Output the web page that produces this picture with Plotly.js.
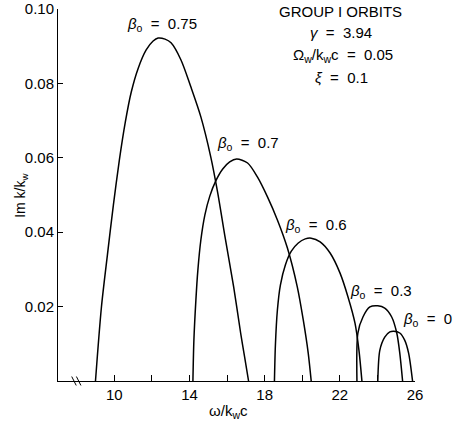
<!DOCTYPE html>
<html>
<head>
<meta charset="utf-8">
<script src="https://cdn.plot.ly/plotly-3.0.1.min.js"></script>
<style>
  html, body { margin: 0; padding: 0; background: #ffffff; }
  #chart { width: 456px; height: 425px; }
</style>
</head>
<body>
<div id="chart"></div>
<script>
// ---- Data (omega/k_w c  vs  Im k/k_w) ----
const betaLabels = ["0.75", "0.7", "0.6", "0.3", "0"];

const x075 = [8.995, 9.312, 9.630, 9.947, 10.265, 10.582, 10.899, 11.270, 11.693, 12.063, 12.328, 12.698, 13.016, 13.545, 14.074, 14.603, 15.132, 15.503, 15.873, 16.349, 16.720, 16.931, 17.143];
const y075 = [0, 0.0199, 0.0339, 0.0473, 0.0594, 0.0696, 0.0777, 0.0841, 0.0890, 0.0914, 0.0922, 0.0919, 0.0909, 0.0863, 0.0790, 0.0710, 0.0602, 0.0505, 0.0392, 0.0253, 0.0129, 0.0065, 0];

const x070 = [14.180, 14.233, 14.339, 14.444, 14.603, 14.815, 15.079, 15.397, 15.767, 16.138, 16.508, 17.090, 17.619, 18.148, 18.677, 19.206, 19.735, 20.053, 20.317, 20.476];
const y070 = [0, 0.0110, 0.0218, 0.0298, 0.0379, 0.0446, 0.0497, 0.0538, 0.0570, 0.0589, 0.0597, 0.0586, 0.0548, 0.0495, 0.0433, 0.0358, 0.0253, 0.0164, 0.0075, 0];

const x060 = [18.519, 18.571, 18.677, 18.836, 19.101, 19.418, 19.788, 20.159, 20.476, 20.952, 21.481, 22.011, 22.434, 22.804, 23.016, 23.175];
const y060 = [0, 0.0097, 0.0191, 0.0258, 0.0312, 0.0349, 0.0371, 0.0382, 0.0384, 0.0374, 0.0344, 0.0290, 0.0226, 0.0156, 0.0083, 0];

const x030 = [22.91, 22.96, 23.23, 23.60, 24.02, 24.39, 24.76, 25.03, 25.19, 25.34];
const y030 = [0, 0.0129, 0.0172, 0.0199, 0.0202, 0.0196, 0.0172, 0.0129, 0.0075, 0];

const x000 = [24.02, 24.13, 24.39, 24.66, 24.87, 25.19, 25.45, 25.66, 25.87];
const y000 = [0, 0.0083, 0.0118, 0.0132, 0.0134, 0.0129, 0.0110, 0.0075, 0];

const xTickVals = [10, 14, 18, 22, 26];
const xTickText = ["10", "14", "18", "22", "26"];
const xMinorVals = [12, 16, 20, 24];
const yTickVals = [0.02, 0.04, 0.06, 0.08, 0.10];
const yTickText = ["0.02", "0.04", "0.06", "0.08", "0.10"];

const infoLines = ["GROUP I ORBITS", "<i>γ</i>  =  3.94", "Ω<sub>w</sub>/k<sub>w</sub>c  =  0.05", "<i>ξ</i>  =  0.1"];
const xTitle = "ω/k<sub>w</sub>c";
const yTitle = "Im k/k<sub>w</sub>";

// ---- Build traces ----
const FONT = "Liberation Sans, Arial, Helvetica, sans-serif";
const series = [[x075, y075], [x070, y070], [x060, y060], [x030, y030], [x000, y000]];
const traces = series.map((s, i) => ({
  x: s[0], y: s[1],
  type: "scatter", mode: "lines",
  name: "β0 = " + betaLabels[i],
  line: { color: "#000000", width: 1.5, shape: "spline", smoothing: 0.8 },
  hoverinfo: "skip"
}));

// label anchor positions (paper coords) for each curve label
const labelPos = [[0.292, 0.958], [0.532, 0.638], [0.723, 0.418], [0.905, 0.240], [1.036, 0.164]];
const annotations = betaLabels.map((b, i) => ({
  x: labelPos[i][0], y: labelPos[i][1], xref: "paper", yref: "paper",
  text: "<i>β</i><sub>o</sub>  =  " + b,
  showarrow: false, xanchor: "center", yanchor: "middle",
  font: { family: FONT, size: 15, color: "#000" }
}));

const infoPos = [[0.790, 0.994], [0.793, 0.937], [0.798, 0.874], [0.793, 0.817]];
infoLines.forEach((t, i) => annotations.push({
  x: infoPos[i][0], y: infoPos[i][1], xref: "paper", yref: "paper",
  text: t, showarrow: false, xanchor: "center", yanchor: "middle",
  font: { family: FONT, size: 15, color: "#000" }
}));

// axis titles
annotations.push({
  x: 0.478, y: -0.083, xref: "paper", yref: "paper",
  text: xTitle, showarrow: false, xanchor: "center", yanchor: "middle",
  font: { family: FONT, size: 15, color: "#000" }
});
annotations.push({
  x: -0.104, y: 0.5, xref: "paper", yref: "paper",
  text: yTitle, showarrow: false, textangle: -90, xanchor: "center", yanchor: "middle",
  font: { family: FONT, size: 14, color: "#000" }
});

// axis break mark on the x axis
const shapes = [7.85, 8.1].map(xb => ({
  type: "line", xref: "x", yref: "paper",
  x0: xb - 0.12, x1: xb + 0.12, y0: 0.012, y1: -0.012,
  line: { color: "#000", width: 1 }
}));

const layout = {
  width: 456, height: 425,
  margin: { l: 58, r: 41, t: 9, b: 44, pad: 0 },
  paper_bgcolor: "#ffffff", plot_bgcolor: "#ffffff",
  showlegend: false,
  font: { family: FONT, size: 14, color: "#000" },
  xaxis: {
    range: [7, 26], showgrid: false, zeroline: false,
    showline: true, linecolor: "#000", linewidth: 1,
    ticks: "inside", ticklen: 6, tickcolor: "#000", tickwidth: 1,
    tickvals: xTickVals, ticktext: xTickText,
    minor: { tickvals: xMinorVals, ticks: "inside", ticklen: 6, tickcolor: "#000", tickwidth: 1, showgrid: false },
    tickfont: { family: FONT, size: 15, color: "#000" },
    automargin: false
  },
  yaxis: {
    range: [0, 0.10], showgrid: false, zeroline: false,
    showline: true, linecolor: "#000", linewidth: 1,
    ticks: "inside", ticklen: 5, tickcolor: "#000", tickwidth: 1,
    tickvals: yTickVals, ticktext: yTickText,
    tickfont: { family: FONT, size: 15, color: "#000" },
    automargin: false
  },
  annotations: annotations,
  shapes: shapes
};

Plotly.newPlot("chart", traces, layout, { displayModeBar: false, staticPlot: true });
</script>
</body>
</html>
